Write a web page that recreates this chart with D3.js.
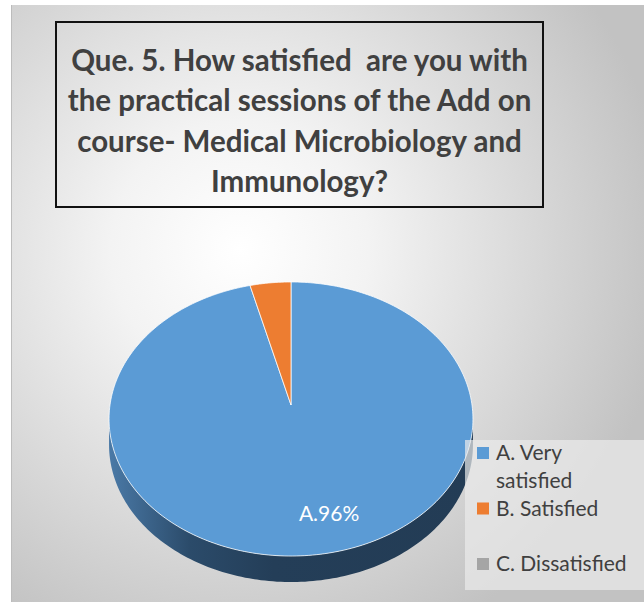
<!DOCTYPE html>
<html>
<head>
<meta charset="utf-8">
<script src="https://cdn.jsdelivr.net/npm/d3@7/dist/d3.min.js"></script>
<style>
  body { margin: 0; background: #fff; }
  text { white-space: pre; }
</style>
</head>
<body>
<svg id="chart" width="644" height="603"></svg>
<script>
// data
const categories = ["A. Very satisfied", "B. Satisfied", "C. Dissatisfied"];
const shares = [96, 4, 0];
const sliceLabels = ["A.96%", "", ""];
const sliceColors = ["#5b9bd5", "#ed7d31", "#a5a5a5"];
const titleLines = [
    "Que. 5. How satisfied  are you with",
    "the practical sessions of the Add on",
    "course- Medical Microbiology and",
    "Immunology?"
];

const svg = d3.select("#chart");
const defs = svg.append("defs");

// background panel with soft radial shading
const bg = defs.append("radialGradient")
    .attr("id", "bgGrad")
    .attr("gradientUnits", "userSpaceOnUse")
    .attr("cx", 240).attr("cy", 250).attr("r", 430);
bg.append("stop").attr("offset", 0).attr("stop-color", "#ffffff");
bg.append("stop").attr("offset", 0.3).attr("stop-color", "#f3f3f3");
bg.append("stop").attr("offset", 1).attr("stop-color", "#c2c2c2");

svg.append("rect")
    .attr("x", 11).attr("y", 5)
    .attr("width", 633).attr("height", 597)
    .attr("fill", "url(#bgGrad)");
svg.append("line")
    .attr("x1", 11.5).attr("x2", 11.5).attr("y1", 5).attr("y2", 602)
    .attr("stroke", "#bcbcbc");

// title box
svg.append("rect")
    .attr("x", 56).attr("y", 22)
    .attr("width", 487).attr("height", 185)
    .attr("fill", "none")
    .attr("stroke", "#111")
    .attr("stroke-width", 2);

svg.append("g")
    .selectAll("text")
    .data(titleLines)
    .join("text")
    .attr("x", 299.5)
    .attr("y", (d, i) => 71 + i * 40.3)
    .attr("text-anchor", "middle")
    .attr("font-family", "Lato, sans-serif")
    .attr("font-weight", "bold")
    .attr("font-size", 29.5)
    .attr("fill", "#404040")
    .text(d => d);

// 3D pie, tilted disc seen in perspective
const ox = 291, oy = 405;          // projected centre of the disc
const a = 181, b = 135.6, e = 0.1022, depth = 26;

const pie = d3.pie().sort(null).value(d => d)(shares);

function proj(t, r = 1, dy = 0) {
    const u = r * Math.sin(t), v = -r * Math.cos(t);
    const w = 1 - e * v;
    return [ox + a * u / w, oy + b * v / w + dy];
}

const line = d3.line();
function arcPts(t0, t1, dy = 0) {
    const n = Math.max(2, Math.ceil(Math.abs(t1 - t0) / 0.02));
    return d3.range(n + 1).map(k => proj(t0 + (t1 - t0) * k / n, 1, dy));
}

function topPath(d) {
    return line([proj(0, 0), ...arcPts(d.startAngle, d.endAngle)]) + "Z";
}

const sideLo = Math.acos(-e), sideHi = 2 * Math.PI - Math.acos(-e);
function sidePath(d) {
    const t0 = Math.max(d.startAngle, sideLo);
    const t1 = Math.min(d.endAngle, sideHi);
    if (t1 <= t0) return null;
    return line([...arcPts(t0, t1), ...arcPts(t1, t0, depth)]) + "Z";
}

const sideGrad = defs.append("linearGradient")
    .attr("id", "sideGrad")
    .attr("gradientUnits", "userSpaceOnUse")
    .attr("x1", ox - a).attr("x2", ox + a)
    .attr("y1", 0).attr("y2", 0);
sideGrad.append("stop").attr("offset", 0).attr("stop-color", "#4a79a6");
sideGrad.append("stop").attr("offset", 0.22).attr("stop-color", "#2b4b6a");
sideGrad.append("stop").attr("offset", 0.45).attr("stop-color", "#243e58");
sideGrad.append("stop").attr("offset", 1).attr("stop-color", "#233c55");

const pieG = svg.append("g");

pieG.selectAll("path.side")
    .data(pie.filter(d => d.value > 0 && sidePath(d)))
    .join("path")
    .attr("class", "side")
    .attr("d", sidePath)
    .attr("fill", d => d.index === 0 ? "url(#sideGrad)" : d3.color(sliceColors[d.index]).darker(1.5));

pieG.selectAll("path.top")
    .data(pie.filter(d => d.value > 0))
    .join("path")
    .attr("class", "top")
    .attr("d", topPath)
    .attr("fill", d => sliceColors[d.index])
    .attr("stroke", "#ffffff")
    .attr("stroke-opacity", 0.75)
    .attr("stroke-width", 1)
    .attr("stroke-linejoin", "round");

pieG.selectAll("text.lbl")
    .data(pie.filter(d => sliceLabels[d.index]))
    .join("text")
    .attr("class", "lbl")
    .attr("x", d => proj((d.startAngle + d.endAngle) / 2, 0.7)[0] + 21)
    .attr("y", d => proj((d.startAngle + d.endAngle) / 2, 0.7)[1] + 15)
    .attr("text-anchor", "middle")
    .attr("font-family", "Lato, sans-serif")
    .attr("font-size", 21)
    .attr("fill", "#ffffff")
    .text(d => sliceLabels[d.index]);

// legend
svg.append("rect")
    .attr("x", 465).attr("y", 440)
    .attr("width", 179).attr("height", 150)
    .attr("fill", "#ebebeb")
    .attr("fill-opacity", 0.7);

const legend = svg.append("g");
const rowY = i => 447 + i * 55.5;

function wrap(str, maxW) {
    const probe = legend.append("text")
        .attr("font-family", "Lato, sans-serif").attr("font-size", 21);
    const words = str.split(" ");
    const lines = [];
    let cur = "";
    words.forEach(w => {
        const test = cur ? cur + " " + w : w;
        probe.text(test);
        if (cur && probe.node().getComputedTextLength() > maxW) {
            lines.push(cur);
            cur = w;
        } else {
            cur = test;
        }
    });
    lines.push(cur);
    probe.remove();
    return lines;
}

categories.forEach((c, i) => {
    legend.append("rect")
        .attr("x", 477).attr("y", rowY(i))
        .attr("width", 12).attr("height", 12)
        .attr("fill", sliceColors[i]);
    wrap(c, 140).forEach((ln, j) => {
        legend.append("text")
            .attr("x", 496)
            .attr("y", rowY(i) + 13 + j * 28)
            .attr("font-family", "Lato, sans-serif")
            .attr("font-size", 21)
            .attr("fill", "#404040")
            .text(ln);
    });
});
</script>
</body>
</html>
